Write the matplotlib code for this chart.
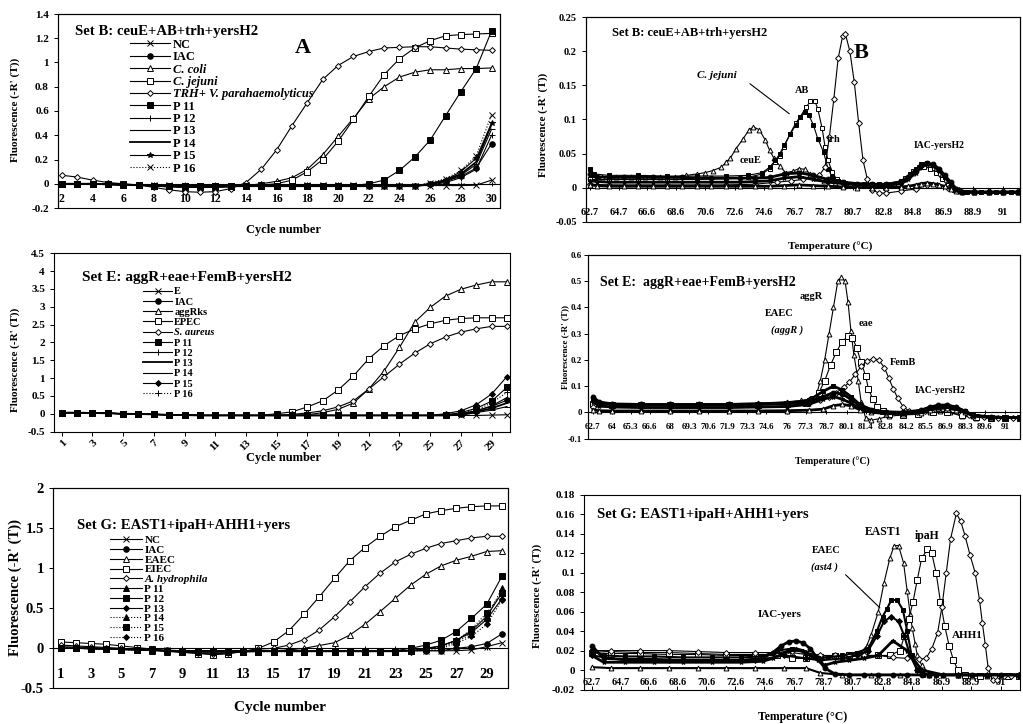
import numpy as np
import matplotlib.pyplot as plt
from matplotlib.patches import Rectangle
from matplotlib.ticker import FuncFormatter

plt.rcParams['font.family'] = ['Liberation Serif', 'DejaVu Serif']
plt.rcParams['font.weight'] = 'bold'
plt.rcParams['axes.linewidth'] = 0.8

# ---------------- amplification curves, Set B (panel A) ----------------
cyc_a = list(range(2, 31))
a_labels = ['NC', 'IAC', 'C. coli', 'C. jejuni', 'TRH+ V. parahaemolyticus',
            'P 11', 'P 12', 'P 13', 'P 14', 'P 15', 'P 16']
a_nc = [0.0, 0.0, 0.0, 0.0, -0.005, -0.008, -0.01, -0.012, -0.015, -0.015, -0.015, -0.015, -0.012, -0.012, -0.012,
        -0.012, -0.012, -0.012, -0.012, -0.012, -0.012, -0.015, -0.015, -0.015, -0.015, -0.015, -0.015, -0.012, 0.03]
a_iac = [0.0, 0.0, 0.0, -0.005, -0.01, -0.012, -0.015, -0.018, -0.02, -0.02, -0.02, -0.02, -0.02, -0.02, -0.02,
         -0.02, -0.02, -0.02, -0.02, -0.02, -0.02, -0.02, -0.02, -0.015, -0.005, 0.02, 0.06, 0.13, 0.33]
a_ccoli = [0.0, 0.0, 0.0, 0.0, -0.005, -0.01, -0.02, -0.025, -0.03, -0.03, -0.03, -0.025, -0.015, 0.0, 0.02,
           0.05, 0.12, 0.24, 0.39, 0.54, 0.70, 0.80, 0.88, 0.92, 0.94, 0.94, 0.95, 0.95, 0.955]
a_cjej = [0.0, 0.0, 0.0, 0.0, -0.005, -0.01, -0.02, -0.025, -0.03, -0.03, -0.03, -0.025, -0.02, -0.01, 0.0,
          0.03, 0.10, 0.20, 0.35, 0.53, 0.72, 0.90, 1.03, 1.12, 1.18, 1.22, 1.23, 1.235, 1.24]
a_trh = [0.07, 0.055, 0.03, 0.01, 0.0, -0.01, -0.03, -0.05, -0.065, -0.07, -0.065, -0.04, 0.01, 0.12, 0.28,
         0.48, 0.67, 0.86, 0.975, 1.05, 1.09, 1.12, 1.125, 1.13, 1.13, 1.12, 1.11, 1.105, 1.10]
a_p11 = [0.0, 0.0, 0.0, -0.005, -0.01, -0.012, -0.015, -0.018, -0.02, -0.02, -0.02, -0.02, -0.02, -0.02, -0.02,
         -0.02, -0.02, -0.02, -0.02, -0.015, 0.0, 0.03, 0.11, 0.22, 0.36, 0.56, 0.76, 0.95, 1.26]
a_p12 = [0.0, 0.0, 0.0, -0.005, -0.01, -0.012, -0.015, -0.018, -0.02, -0.02, -0.02, -0.02, -0.02, -0.02, -0.02,
         -0.02, -0.02, -0.02, -0.02, -0.02, -0.02, -0.02, -0.02, -0.02, -0.01, 0.01, 0.05, 0.12, 0.40]
a_p13 = [0.0, 0.0, 0.0, -0.005, -0.01, -0.012, -0.015, -0.018, -0.02, -0.02, -0.02, -0.02, -0.02, -0.02, -0.02,
         -0.02, -0.02, -0.02, -0.02, -0.02, -0.02, -0.02, -0.02, -0.02, -0.005, 0.02, 0.07, 0.16, 0.45]
a_p14 = [0.0, 0.0, 0.0, -0.005, -0.01, -0.012, -0.015, -0.018, -0.02, -0.02, -0.02, -0.02, -0.02, -0.02, -0.02,
         -0.02, -0.02, -0.02, -0.02, -0.02, -0.02, -0.02, -0.02, -0.02, 0.0, 0.03, 0.08, 0.18, 0.49]
a_p15 = [0.0, 0.0, 0.0, -0.005, -0.01, -0.012, -0.015, -0.018, -0.02, -0.02, -0.02, -0.02, -0.02, -0.02, -0.02,
         -0.02, -0.02, -0.02, -0.02, -0.02, -0.02, -0.02, -0.02, -0.02, 0.0, 0.03, 0.10, 0.21, 0.50]
a_p16 = [0.0, 0.0, 0.0, -0.005, -0.01, -0.012, -0.015, -0.018, -0.02, -0.02, -0.02, -0.02, -0.02, -0.02, -0.02,
         -0.02, -0.02, -0.02, -0.02, -0.02, -0.02, -0.02, -0.02, -0.02, 0.01, 0.04, 0.11, 0.23, 0.57]

# ---------------- amplification curves, Set E ----------------
cyc_e = list(range(1, 31))
e_labels = ['E', 'IAC', 'aggRks', 'EPEC', 'S. aureus', 'P 11', 'P 12', 'P 13', 'P 14', 'P 15', 'P 16']
e_e = [0.03, 0.03, 0.02, 0.01, 0.0, -0.01, -0.02, -0.03, -0.04, -0.05, -0.05, -0.05, -0.05, -0.05, -0.05,
       -0.05, -0.05, -0.05, -0.05, -0.05, -0.05, -0.05, -0.05, -0.05, -0.05, -0.05, -0.05, -0.05, -0.04, -0.03]
e_iac = [0.03, 0.03, 0.02, 0.01, 0.0, -0.01, -0.02, -0.03, -0.04, -0.05, -0.05, -0.05, -0.05, -0.05, -0.05,
         -0.05, -0.05, -0.05, -0.05, -0.05, -0.05, -0.05, -0.05, -0.05, -0.05, -0.05, 0.0, 0.08, 0.2, 0.38]
e_aggr = [0.03, 0.03, 0.02, 0.01, 0.0, -0.01, -0.02, -0.03, -0.04, -0.05, -0.05, -0.05, -0.05, -0.05, -0.05,
          -0.05, -0.03, 0.03, 0.12, 0.30, 0.69, 1.2, 1.86, 2.57, 2.98, 3.30, 3.49, 3.61, 3.70, 3.70]
e_epec = [0.03, 0.03, 0.02, 0.01, 0.0, -0.01, -0.02, -0.03, -0.04, -0.05, -0.05, -0.05, -0.05, -0.05, 0.0,
          0.05, 0.19, 0.36, 0.66, 1.06, 1.54, 1.91, 2.19, 2.38, 2.52, 2.62, 2.67, 2.69, 2.69, 2.69]
e_saur = [0.03, 0.03, 0.02, 0.01, 0.0, -0.01, -0.02, -0.03, -0.04, -0.05, -0.05, -0.05, -0.05, -0.05, -0.05,
          -0.02, 0.02, 0.08, 0.19, 0.36, 0.69, 1.04, 1.39, 1.70, 1.96, 2.15, 2.29, 2.38, 2.45, 2.45]
e_p11 = [0.03, 0.03, 0.02, 0.01, 0.0, -0.01, -0.02, -0.03, -0.04, -0.05, -0.05, -0.05, -0.05, -0.05, -0.05,
         -0.05, -0.05, -0.05, -0.05, -0.05, -0.05, -0.05, -0.05, -0.05, -0.05, -0.03, 0.03, 0.15, 0.35, 0.74]
e_p12 = [0.03, 0.03, 0.02, 0.01, 0.0, -0.01, -0.02, -0.03, -0.04, -0.05, -0.05, -0.05, -0.05, -0.05, -0.05,
         -0.05, -0.05, -0.05, -0.05, -0.05, -0.05, -0.05, -0.05, -0.05, -0.05, -0.04, 0.0, 0.08, 0.22, 0.45]
e_p13 = [0.03, 0.03, 0.02, 0.01, 0.0, -0.01, -0.02, -0.03, -0.04, -0.05, -0.05, -0.05, -0.05, -0.05, -0.05,
         -0.05, -0.05, -0.05, -0.05, -0.05, -0.05, -0.05, -0.05, -0.05, -0.05, -0.05, -0.03, 0.05, 0.15, 0.30]
e_p14 = [0.03, 0.03, 0.02, 0.01, 0.0, -0.01, -0.02, -0.03, -0.04, -0.05, -0.05, -0.05, -0.05, -0.05, -0.05,
         -0.05, -0.05, -0.05, -0.05, -0.05, -0.05, -0.05, -0.05, -0.05, -0.05, -0.05, -0.04, 0.03, 0.10, 0.20]
e_p15 = [0.03, 0.03, 0.02, 0.01, 0.0, -0.01, -0.02, -0.03, -0.04, -0.05, -0.05, -0.05, -0.05, -0.05, -0.05,
         -0.05, -0.05, -0.05, -0.05, -0.05, -0.05, -0.05, -0.05, -0.05, -0.05, 0.0, 0.08, 0.25, 0.55, 1.04]
e_p16 = [0.03, 0.03, 0.02, 0.01, 0.0, -0.01, -0.02, -0.03, -0.04, -0.05, -0.05, -0.05, -0.05, -0.05, -0.05,
         -0.05, -0.05, -0.05, -0.05, -0.05, -0.05, -0.05, -0.05, -0.05, -0.05, -0.04, 0.02, 0.10, 0.30, 0.60]

# ---------------- amplification curves, Set G ----------------
cyc_g = list(range(1, 31))
g_labels = ['NC', 'IAC', 'EAEC', 'EIEC', 'A. hydrophila', 'P 11', 'P 12', 'P 13', 'P 14', 'P 15', 'P 16']
g_nc = [0.0, 0.0, 0.0, -0.005, -0.01, -0.015, -0.02, -0.025, -0.03, -0.03, -0.03, -0.03, -0.03, -0.03, -0.03,
        -0.03, -0.03, -0.03, -0.03, -0.03, -0.03, -0.03, -0.03, -0.03, -0.03, -0.03, -0.03, -0.02, 0.02, 0.07]
g_iac = [0.0, 0.0, 0.0, -0.005, -0.01, -0.015, -0.02, -0.025, -0.03, -0.03, -0.03, -0.03, -0.03, -0.03, -0.03,
         -0.03, -0.03, -0.03, -0.03, -0.03, -0.03, -0.03, -0.03, -0.03, -0.03, -0.03, 0.0, 0.02, 0.06, 0.18]
g_eaec = [0.02, 0.015, 0.01, 0.0, -0.01, -0.02, -0.03, -0.04, -0.05, -0.05, -0.05, -0.05, -0.045, -0.04, -0.03,
          -0.02, 0.0, 0.035, 0.07, 0.165, 0.30, 0.46, 0.625, 0.79, 0.925, 1.03, 1.10, 1.15, 1.21, 1.22]
g_eiec = [0.08, 0.07, 0.06, 0.05, 0.03, 0.01, -0.01, -0.03, -0.05, -0.065, -0.08, -0.07, -0.04, 0.0, 0.08,
          0.22, 0.425, 0.645, 0.875, 1.095, 1.26, 1.40, 1.52, 1.60, 1.68, 1.72, 1.75, 1.77, 1.78, 1.78]
g_ahyd = [0.04, 0.03, 0.02, 0.01, 0.0, -0.01, -0.02, -0.03, -0.05, -0.06, -0.07, -0.06, -0.04, -0.01, 0.0,
          0.04, 0.11, 0.23, 0.395, 0.58, 0.77, 0.94, 1.08, 1.175, 1.25, 1.31, 1.345, 1.38, 1.40, 1.40]
g_p11 = [0.0, 0.0, -0.005, -0.01, -0.015, -0.02, -0.025, -0.03, -0.035, -0.04, -0.04, -0.04, -0.04, -0.04, -0.04,
         -0.04, -0.04, -0.04, -0.04, -0.04, -0.04, -0.04, -0.04, -0.03, 0.0, 0.03, 0.10, 0.22, 0.40, 0.69]
g_p12 = [0.0, 0.0, -0.005, -0.01, -0.015, -0.02, -0.025, -0.03, -0.035, -0.04, -0.04, -0.04, -0.04, -0.04, -0.04,
         -0.04, -0.04, -0.04, -0.04, -0.04, -0.04, -0.04, -0.03, 0.0, 0.04, 0.10, 0.21, 0.375, 0.55, 0.90]
g_p13 = [0.0, 0.0, -0.005, -0.01, -0.015, -0.02, -0.025, -0.03, -0.035, -0.04, -0.04, -0.04, -0.04, -0.04, -0.04,
         -0.04, -0.04, -0.04, -0.04, -0.04, -0.04, -0.04, -0.04, -0.03, -0.01, 0.03, 0.10, 0.20, 0.36, 0.62]
g_p14 = [0.0, 0.0, -0.005, -0.01, -0.015, -0.02, -0.025, -0.03, -0.035, -0.04, -0.04, -0.04, -0.04, -0.04, -0.04,
         -0.04, -0.04, -0.04, -0.04, -0.04, -0.04, -0.04, -0.04, -0.03, 0.0, 0.02, 0.08, 0.18, 0.38, 0.75]
g_p15 = [0.0, 0.0, -0.005, -0.01, -0.015, -0.02, -0.025, -0.03, -0.035, -0.04, -0.04, -0.04, -0.04, -0.04, -0.04,
         -0.04, -0.04, -0.04, -0.04, -0.04, -0.04, -0.04, -0.04, -0.03, -0.01, 0.02, 0.09, 0.24, 0.44, 0.69]
g_p16 = [0.0, 0.0, -0.005, -0.01, -0.015, -0.02, -0.025, -0.03, -0.035, -0.04, -0.04, -0.04, -0.04, -0.04, -0.04,
         -0.04, -0.04, -0.04, -0.04, -0.04, -0.04, -0.04, -0.04, -0.04, -0.02, 0.0, 0.06, 0.15, 0.30, 0.60]

# ---------------- melt curves, Set B (panel B) ----------------
b_ticks = [62.7, 64.7, 66.6, 68.6, 70.6, 72.6, 74.6, 76.7, 78.7, 80.7, 82.8, 84.8, 86.9, 88.9, 91]
b_ceue_t = [62.7, 63.5, 64.5, 65.5, 66.5, 67.5, 68.5, 69.3, 70.0, 70.6, 71.1, 71.7, 72.0, 72.3, 72.7, 73.2, 73.6,
            73.9, 74.3, 74.7, 75.0, 75.3, 75.7, 76.1, 76.6, 77.0, 77.4, 77.8, 78.2, 78.7, 79.5, 80.5, 81.5, 82.5,
            83.5, 84.3, 84.8, 85.2, 85.6, 86.0, 86.4, 86.8, 87.2, 87.6, 88.0, 89.0, 90.0, 91.0, 92.0]
b_ceue_v = [0.015, 0.015, 0.015, 0.015, 0.015, 0.015, 0.016, 0.018, 0.02, 0.022, 0.025, 0.03, 0.037, 0.043, 0.057,
            0.072, 0.085, 0.089, 0.085, 0.07, 0.055, 0.043, 0.032, 0.022, 0.024, 0.028, 0.027, 0.02, 0.014, 0.01,
            0.007, 0.005, 0.004, 0.004, 0.005, 0.012, 0.022, 0.03, 0.034, 0.033, 0.029, 0.02, 0.01, 0.0, -0.005,
            -0.006, -0.006, -0.006, -0.006]
b_cjej_t = [62.7, 64.0, 66.0, 68.0, 70.0, 72.0, 73.5, 74.5, 75.0, 75.4, 75.7, 76.0, 76.4, 76.8, 77.1, 77.5, 77.8,
            78.1, 78.3, 78.6, 78.8, 79.0, 79.3, 79.6, 80.0, 80.5, 81.5, 82.5, 83.5, 84.3, 84.8, 85.2, 85.6, 86.0,
            86.4, 86.8, 87.2, 87.6, 88.0, 89.0, 90.0, 91.0, 92.0]
b_cjej_v = [0.012, 0.012, 0.012, 0.012, 0.012, 0.013, 0.015, 0.02, 0.028, 0.038, 0.047, 0.06, 0.079, 0.095, 0.104,
            0.118, 0.127, 0.127, 0.116, 0.087, 0.06, 0.04, 0.023, 0.012, 0.008, 0.006, 0.005, 0.005, 0.006, 0.014,
            0.024, 0.03, 0.031, 0.028, 0.022, 0.012, 0.004, -0.003, -0.005, -0.006, -0.006, -0.006, -0.006]
b_ab_t = [62.7, 63.0, 64.0, 66.0, 68.0, 70.0, 72.0, 73.5, 74.5, 75.0, 75.4, 75.7, 76.0, 76.4, 76.8, 77.1, 77.4,
          77.7, 78.0, 78.3, 78.7, 79.0, 79.3, 79.7, 80.2, 81.0, 82.0, 83.0, 84.0, 84.6, 85.0, 85.4, 85.8, 86.2,
          86.6, 87.0, 87.4, 87.8, 88.5, 89.5, 90.5, 91.5, 92.0]
b_ab_v = [0.028, 0.02, 0.018, 0.018, 0.017, 0.017, 0.017, 0.018, 0.022, 0.03, 0.04, 0.05, 0.062, 0.078, 0.092,
          0.103, 0.111, 0.106, 0.092, 0.072, 0.052, 0.028, 0.015, 0.01, 0.007, 0.006, 0.005, 0.006, 0.01, 0.02,
          0.028, 0.034, 0.036, 0.033, 0.026, 0.016, 0.006, -0.003, -0.006, -0.007, -0.007, -0.007, -0.007]
b_trh_t = [62.7, 64.0, 66.0, 68.0, 70.0, 72.0, 74.0, 75.5, 76.5, 77.3, 78.0, 78.4, 78.8, 79.1, 79.4, 79.7, 80.0,
           80.2, 80.5, 80.8, 81.1, 81.4, 81.7, 82.0, 82.5, 83.0, 84.0, 85.0, 85.8, 86.5, 87.2, 88.0, 89.0, 90.0,
           91.0, 92.0]
b_trh_v = [0.005, 0.004, 0.004, 0.004, 0.004, 0.004, 0.005, 0.008, 0.01, 0.012, 0.015, 0.018, 0.03, 0.075, 0.13,
           0.19, 0.222, 0.225, 0.2, 0.155, 0.095, 0.04, 0.012, -0.003, -0.008, -0.008, -0.005, -0.002, 0.004,
           0.004, 0.0, -0.004, -0.005, -0.005, -0.005, -0.005]
b_band_t = [62.7, 63.2, 64, 65, 66, 67, 68, 69, 70, 71, 72, 73, 74, 75, 76, 77, 78, 79, 80, 81, 82, 83, 84, 84.5,
            85.0, 85.4, 85.8, 86.2, 86.6, 87.0, 87.4, 87.8, 88.2, 89, 90, 91, 92]
b_iac_v = [0.02, 0.016, 0.015, 0.015, 0.015, 0.015, 0.015, 0.015, 0.014, 0.014, 0.014, 0.014, 0.014, 0.015, 0.02,
           0.022, 0.018, 0.012, 0.008, 0.006, 0.005, 0.005, 0.008, 0.015, 0.025, 0.033, 0.036, 0.034, 0.028, 0.018,
           0.008, -0.002, -0.006, -0.007, -0.007, -0.007, -0.007]
b_p15_v = [0.01, 0.009, 0.008, 0.008, 0.008, 0.008, 0.008, 0.008, 0.008, 0.008, 0.008, 0.008, 0.009, 0.01, 0.014,
           0.016, 0.012, 0.008, 0.006, 0.004, 0.003, 0.003, 0.006, 0.012, 0.022, 0.03, 0.034, 0.032, 0.025, 0.015,
           0.005, -0.003, -0.006, -0.007, -0.007, -0.007, -0.007]
b_nc_v = [0.004, 0.003, 0.002, 0.002, 0.002, 0.002, 0.002, 0.002, 0.002, 0.002, 0.002, 0.002, 0.002, 0.002, 0.003,
          0.004, 0.003, 0.002, 0.001, 0.0, 0.0, 0.0, 0.001, 0.002, 0.004, 0.006, 0.007, 0.006, 0.004, 0.002,
          -0.002, -0.005, -0.006, -0.007, -0.007, -0.007, -0.007]

# ---------------- melt curves, Set E ----------------
e_ticks = [62.7, 64, 65.3, 66.6, 68, 69.3, 70.6, 71.9, 73.3, 74.6, 76, 77.3, 78.7, 80.1, 81.4, 82.8, 84.2, 85.5,
           86.9, 88.3, 89.6, 91]
em_aggr_t = [62.7, 63.2, 64.0, 66.0, 68.0, 70.0, 72.0, 74.0, 76.0, 77.0, 77.5, 78.0, 78.3, 78.6, 78.9, 79.2, 79.5,
             79.75, 80.0, 80.2, 80.4, 80.6, 80.9, 81.1, 81.4, 81.8, 82.3, 83.0, 84.0, 85.0, 85.8, 86.5, 87.2, 88.0,
             89.0, 90.0, 91.0, 92.0]
em_aggr_v = [0.045, 0.035, 0.033, 0.032, 0.032, 0.032, 0.033, 0.035, 0.04, 0.045, 0.05, 0.06, 0.12, 0.2, 0.3, 0.4,
             0.5, 0.515, 0.5, 0.42, 0.31, 0.22, 0.12, 0.04, -0.02, -0.03, -0.025, -0.015, -0.01, -0.008, 0.0, 0.005,
             0.0, -0.015, -0.02, -0.02, -0.02, -0.02]
em_eae_t = [62.7, 64.0, 66.0, 68.0, 70.0, 72.0, 74.0, 76.0, 77.3, 77.8, 78.2, 78.6, 79.0, 79.4, 79.8, 80.2, 80.5,
            80.8, 81.1, 81.4, 81.6, 81.9, 82.2, 82.6, 83.0, 84.0, 85.0, 86.0, 87.0, 88.0, 89.0, 90.0, 91.0, 92.0]
em_eae_v = [0.03, 0.028, 0.027, 0.027, 0.027, 0.027, 0.028, 0.03, 0.035, 0.05, 0.075, 0.12, 0.18, 0.23, 0.27, 0.29,
            0.285, 0.245, 0.19, 0.14, 0.09, 0.05, 0.02, 0.005, -0.005, -0.01, -0.005, 0.0, 0.0, -0.01, -0.018,
            -0.02, -0.02, -0.02]
em_femb_t = [62.7, 64.0, 66.0, 68.0, 70.0, 72.0, 74.0, 76.0, 77.5, 78.3, 78.9, 79.4, 79.9, 80.3, 80.7, 81.1, 81.5,
             81.9, 82.3, 82.7, 83.0, 83.3, 83.6, 84.0, 84.4, 84.9, 85.5, 86.2, 87.0, 87.8, 88.5, 89.5, 90.5, 91.5,
             92.0]
em_femb_v = [0.02, 0.02, 0.02, 0.02, 0.02, 0.02, 0.022, 0.025, 0.035, 0.045, 0.06, 0.075, 0.095, 0.115, 0.145,
             0.175, 0.195, 0.205, 0.2, 0.17, 0.13, 0.09, 0.055, 0.02, 0.005, 0.0, 0.005, 0.012, 0.015, 0.005,
             -0.012, -0.018, -0.02, -0.02, -0.02]
em_band_t = [62.7, 63.1, 64.0, 66.0, 68.0, 70.0, 72.0, 74.0, 76.0, 77.5, 78.5, 79.2, 79.8, 80.4, 81.0, 81.8, 82.8,
             84.0, 85.2, 85.8, 86.4, 87.0, 87.6, 88.2, 88.8, 90.0, 91.0, 92.0]
em_iac_v = [0.06, 0.04, 0.032, 0.03, 0.03, 0.03, 0.03, 0.032, 0.035, 0.04, 0.06, 0.075, 0.07, 0.05, 0.025, 0.01,
            0.002, 0.0, 0.008, 0.02, 0.027, 0.028, 0.02, 0.005, -0.012, -0.018, -0.02, -0.02]
em_eaec_v = [0.05, 0.035, 0.03, 0.028, 0.027, 0.027, 0.028, 0.03, 0.035, 0.045, 0.08, 0.1, 0.085, 0.06, 0.03, 0.01,
             0.0, -0.004, 0.004, 0.015, 0.022, 0.024, 0.018, 0.004, -0.012, -0.018, -0.02, -0.02]
em_nc_v = [0.01, 0.006, 0.005, 0.005, 0.005, 0.005, 0.005, 0.005, 0.006, 0.008, 0.012, 0.025, 0.03, 0.025, 0.01,
           0.0, -0.005, -0.006, -0.002, 0.008, 0.015, 0.016, 0.01, 0.0, -0.014, -0.02, -0.02, -0.02]
em_p15_v = [0.04, 0.025, 0.02, 0.018, 0.018, 0.018, 0.018, 0.02, 0.022, 0.03, 0.05, 0.06, 0.05, 0.035, 0.015,
            0.005, -0.002, -0.004, 0.006, 0.018, 0.025, 0.026, 0.019, 0.004, -0.013, -0.019, -0.02, -0.02]

# ---------------- melt curves, Set G ----------------
g_ticks = [62.7, 64.7, 66.6, 68.6, 70.6, 72.6, 74.6, 76.7, 78.7, 80.7, 82.8, 84.8, 86.9, 88.9, 91]
gm_east_t = [62.7, 64.0, 66.0, 68.0, 70.0, 72.0, 74.0, 75.5, 76.5, 77.5, 78.5, 79.5, 80.5, 81.3, 81.7, 82.0, 82.5,
             82.9, 83.3, 83.6, 83.9, 84.25, 84.5, 84.7, 84.85, 85.05, 85.2, 85.5, 86.0, 87.0, 88.0, 89.0, 90.0,
             91.0, 92.2]
gm_east_v = [0.02, 0.019, 0.018, 0.018, 0.017, 0.016, 0.016, 0.016, 0.018, 0.016, 0.013, 0.014, 0.015, 0.018,
             0.025, 0.036, 0.06, 0.09, 0.115, 0.128, 0.128, 0.11, 0.081, 0.058, 0.043, 0.027, 0.015, 0.005, -0.003,
             -0.005, -0.005, -0.006, -0.006, -0.006, -0.006]
gm_ipah_t = [62.7, 64.0, 66.0, 68.0, 70.0, 72.0, 74.0, 75.5, 76.5, 77.5, 78.5, 79.5, 80.5, 81.5, 82.5, 83.3, 84.0,
             84.3, 84.6, 84.9, 85.2, 85.5, 85.9, 86.2, 86.5, 86.8, 87.1, 87.4, 87.7, 88.0, 88.5, 89.5, 90.5, 91.5,
             92.2]
gm_ipah_v = [0.018, 0.017, 0.017, 0.016, 0.016, 0.015, 0.015, 0.015, 0.012, 0.012, 0.013, 0.014, 0.015, 0.015,
             0.015, 0.015, 0.02, 0.035, 0.052, 0.07, 0.093, 0.115, 0.124, 0.12, 0.1, 0.07, 0.045, 0.025, 0.01, 0.0,
             -0.005, -0.006, -0.006, -0.006, -0.006]
gm_ahh_t = [62.7, 64.0, 66.0, 68.0, 70.0, 72.0, 74.0, 75.5, 76.5, 77.5, 78.5, 79.5, 80.5, 81.5, 82.5, 83.5, 84.5,
            85.3, 85.8, 86.2, 86.6, 86.9, 87.2, 87.5, 87.9, 88.2, 88.5, 88.85, 89.2, 89.5, 89.7, 89.9, 90.1, 90.4,
            90.7, 91.2, 91.7, 92.2]
gm_ahh_v = [0.02, 0.02, 0.02, 0.02, 0.019, 0.018, 0.018, 0.018, 0.02, 0.018, 0.015, 0.015, 0.015, 0.015, 0.015,
            0.013, 0.012, 0.011, 0.012, 0.022, 0.038, 0.065, 0.1, 0.135, 0.161, 0.153, 0.138, 0.118, 0.1, 0.072,
            0.048, 0.026, 0.002, -0.01, -0.01, -0.006, -0.006, -0.006]
gm_eaec_t = [62.7, 63.5, 65.0, 67.0, 69.0, 71.0, 73.0, 74.5, 75.5, 76.5, 77.5, 78.3, 79.0, 80.0, 81.0, 81.8, 82.4,
             82.8, 83.1, 83.4, 83.8, 84.2, 84.5, 84.8, 85.2, 85.6, 86.5, 88.0, 90.0, 92.2]
gm_eaec_v = [0.02, 0.015, 0.014, 0.014, 0.013, 0.013, 0.013, 0.014, 0.02, 0.022, 0.018, 0.012, 0.013, 0.015, 0.018,
             0.022, 0.04, 0.055, 0.063, 0.072, 0.072, 0.062, 0.04, 0.015, 0.0, -0.005, -0.005, -0.005, -0.005,
             -0.005]
gm_iac_t = [62.7, 63.5, 65.0, 67.0, 69.0, 71.0, 73.0, 74.5, 75.2, 75.8, 76.3, 76.8, 77.3, 77.8, 78.3, 78.8, 79.5,
            80.5, 81.5, 82.5, 83.5, 84.5, 85.5, 87.0, 89.0, 91.0, 92.2]
gm_iac_v = [0.025, 0.012, 0.011, 0.011, 0.01, 0.01, 0.01, 0.012, 0.018, 0.025, 0.029, 0.03, 0.028, 0.022, 0.012,
            0.002, -0.004, -0.005, -0.005, -0.005, -0.005, -0.005, -0.005, -0.005, -0.005, -0.005, -0.005]
gm_p16_v = [0.015, 0.008, 0.008, 0.008, 0.008, 0.008, 0.008, 0.009, 0.012, 0.016, 0.02, 0.022, 0.02, 0.015, 0.01,
            0.005, 0.008, 0.01, 0.012, 0.015, 0.03, 0.02, 0.0, -0.005, -0.005, -0.005, -0.005]
gm_p13_t = [62.7, 65.0, 68.0, 71.0, 74.0, 76.0, 77.5, 78.5, 80.0, 81.0, 81.8, 82.4, 82.9, 83.4, 83.9, 84.3, 84.7,
            85.2, 86.0, 88.0, 90.0, 92.2]
gm_p13_v = [0.015, 0.01, 0.01, 0.01, 0.01, 0.015, 0.012, 0.01, 0.012, 0.015, 0.02, 0.035, 0.05, 0.055, 0.05, 0.035,
            0.015, 0.0, -0.005, -0.005, -0.005, -0.005]
gm_nc_t = [62.7, 64.0, 66.0, 68.0, 70.0, 72.0, 74.0, 76.0, 77.5, 78.5, 80.0, 82.0, 84.0, 86.0, 88.0, 90.0, 92.2]
gm_nc_v = [0.003, 0.002, 0.002, 0.002, 0.002, 0.002, 0.002, 0.002, 0.002, -0.003, -0.005, -0.005, -0.005, -0.005,
           -0.005, -0.005, -0.005]

# ---------------- drawing ----------------
W, H = 1023, 724
fig = plt.figure(figsize=(W / 100, H / 100), dpi=100)


def add_ax(l, t, r, b):
    return fig.add_axes([l / W, 1 - b / H, (r - l) / W, (b - t) / H])


def ftext(px, py, s, **kw):
    fig.text(px / W, 1 - py / H, s, **kw)


STY = {
    'x': dict(marker='x'), 'o': dict(marker='o'),
    'tri': dict(marker='^', mfc='white'), 'sq': dict(marker='s', mfc='white'),
    'dia': dict(marker='D', mfc='white'), 'fsq': dict(marker='s'), 'ftri': dict(marker='^'),
    'fdia': dict(marker='D'), 'plus': dict(marker='+'), 'dash': dict(marker='_'),
    'line': dict(marker='None'), 'star': dict(marker='*'),
    'dotx': dict(marker='x', ls=':'), 'dotplus': dict(marker='+', ls=':'),
    'dotftri': dict(marker='^', ls=':'), 'dotfsq': dict(marker='s', ls=':'),
    'dotfdia': dict(marker='D', ls=':'),
}


def draw(ax, x, y, key, ms=4.0, lw=0.8, label=None, z=2):
    st = dict(marker='None', mfc='black', ls='-')
    st.update(STY[key])
    if st['marker'] == 'D':
        ms = ms * 0.75
    ax.plot(x, y, color='black', mec='black', mew=0.7, ms=ms, lw=lw, label=label, zorder=z, **st)


fmt = FuncFormatter(lambda v, p: f"{round(v, 3) + 0.0:g}")


def frame(ax, zero_axis):
    ax.yaxis.set_major_formatter(fmt)
    ax.tick_params(axis='y', direction='out', length=3, width=0.7)
    ax.tick_params(axis='x', length=3, width=0.7)
    if zero_axis:
        ax.spines['bottom'].set_position(('data', 0))
        ax.tick_params(axis='x', direction='inout')
        ax.add_patch(Rectangle((0, 0), 1, 1, transform=ax.transAxes, fill=False, lw=0.8,
                               ec='black', zorder=6, clip_on=False))


def legend(ax, fx, fy, fs, hl, ls, italic):
    leg = ax.legend(loc='upper left', bbox_to_anchor=(fx, fy), frameon=False, fontsize=fs,
                    handlelength=hl, handletextpad=0.2, labelspacing=ls, borderpad=0,
                    borderaxespad=0)
    for i in italic:
        leg.get_texts()[i].set_fontstyle('italic')


ylab = "Fluorescence (-R' (T))"

# ---- panel A ----
ax = add_ax(58, 14, 500, 208)
a_series = [a_nc, a_iac, a_ccoli, a_cjej, a_trh, a_p11, a_p12, a_p13, a_p14, a_p15, a_p16]
a_keys = ['x', 'o', 'tri', 'sq', 'dia', 'fsq', 'plus', 'dash', 'line', 'star', 'dotx']
for vals, key, lab in zip(a_series, a_keys, a_labels):
    draw(ax, cyc_a, vals, key, lw=1.3 if key == 'line' else 0.8, label=lab)
ax.set_xlim(1.75, 30.55)
ax.set_ylim(-0.2, 1.4)
ax.set_xticks(list(range(2, 31, 2)))
ax.set_yticks(np.arange(-0.2, 1.41, 0.2))
frame(ax, True)
ax.tick_params(axis='x', pad=5, labelsize=8.5)
ax.tick_params(axis='y', labelsize=8)
legend(ax, 0.163, 0.872, 9, 3.2, 0.03, [2, 3, 4])
ftext(75, 31.7, 'Set B: ceuE+AB+trh+yersH2', fontsize=10.6, va='center')
ftext(303, 48, 'A', fontsize=16, ha='center', va='center')
ftext(15, 110, ylab, rotation=90, ha='center', va='center', fontsize=8)
ftext(283, 230, 'Cycle number', ha='center', va='center', fontsize=9)

# ---- panel B ----
ax = add_ax(586, 17.3, 1020, 221.7)
for v, key in [(b_nc_v, 'tri'), (b_p15_v, 'star'), (b_iac_v, 'o')]:
    draw(ax, b_band_t, v, key, ms=3.5, lw=2.0, z=3)
draw(ax, b_ceue_t, b_ceue_v, 'tri', ms=3.5)
draw(ax, b_cjej_t, b_cjej_v, 'sq', ms=3.5)
draw(ax, b_ab_t, b_ab_v, 'fsq', ms=3.5)
draw(ax, b_trh_t, b_trh_v, 'dia', ms=4)
ax.set_xlim(62.43, 92.15)
ax.set_ylim(-0.05, 0.25)
ax.set_xticks(b_ticks)
ax.set_xticklabels([f"{t:g}" for t in b_ticks])
ax.set_yticks(np.arange(-0.05, 0.251, 0.05))
frame(ax, True)
ax.tick_params(axis='x', pad=13, labelsize=7.5)
ax.tick_params(axis='y', labelsize=7.5)
ax.text(64.2, 0.227, 'Set B: ceuE+AB+trh+yersH2', fontsize=9, va='center')
ax.text(81.3, 0.197, 'B', fontsize=16, ha='center', va='center')
ax.text(77.2, 0.143, 'AB', fontsize=7.5, ha='center', va='center')
ax.text(79.4, 0.071, 'trh', fontsize=7.5, ha='center', va='center')
ax.text(73.7, 0.040, 'ceuE', fontsize=7.5, ha='center', va='center')
ax.text(71.4, 0.165, 'C. jejuni', fontsize=8, ha='center', va='center', style='italic')
ax.annotate('', xy=(76.5, 0.106), xytext=(73.5, 0.155), arrowprops=dict(arrowstyle='-', lw=0.8))
ax.text(86.6, 0.062, 'IAC-yersH2', fontsize=7, ha='center', va='center')
ftext(543, 125, ylab, rotation=90, ha='center', va='center', fontsize=8)
ftext(830, 247, 'Temperature (°C)', ha='center', va='center', fontsize=8)

# ---- panel E (amplification) ----
ax = add_ax(54, 253.3, 510, 431.5)
e_series = [e_e, e_iac, e_aggr, e_epec, e_saur, e_p11, e_p12, e_p13, e_p14, e_p15, e_p16]
e_keys = ['x', 'o', 'tri', 'sq', 'dia', 'fsq', 'plus', 'line', 'dash', 'fdia', 'dotplus']
for vals, key, lab in zip(e_series, e_keys, e_labels):
    draw(ax, cyc_e, vals, key, lw=1.3 if key == 'line' else 0.8, label=lab)
ax.set_xlim(0.5, 30.2)
ax.set_ylim(-0.5, 4.5)
ax.set_xticks(list(range(1, 30, 2)))
ax.set_xticklabels([str(c) for c in range(1, 30, 2)], rotation=45, ha='right', rotation_mode='anchor')
ax.set_yticks(np.arange(-0.5, 4.51, 0.5))
frame(ax, False)
ax.tick_params(axis='x', pad=2, labelsize=8)
ax.tick_params(axis='y', labelsize=8)
legend(ax, 0.195, 0.81, 7.5, 2.8, 0.09, [4])
ftext(82, 278, 'Set E: aggR+eae+FemB+yersH2', fontsize=11, va='center')
ftext(15, 360, ylab, rotation=90, ha='center', va='center', fontsize=8)
ftext(283, 458, 'Cycle number', ha='center', va='center', fontsize=9)

# ---- panel E (melt) ----
ax = add_ax(588, 255, 1020, 438.5)
for v, key in [(em_nc_v, 'tri'), (em_p15_v, 'star'), (em_eaec_v, 'fsq'), (em_iac_v, 'o')]:
    draw(ax, em_band_t, v, key, ms=3.5, lw=2.0, z=3)
draw(ax, em_aggr_t, em_aggr_v, 'tri', ms=3.5)
draw(ax, em_eae_t, em_eae_v, 'sq', ms=3.8)
draw(ax, em_femb_t, em_femb_v, 'dia', ms=4)
ax.set_xlim(62.36, 92.0)
ax.set_ylim(-0.1, 0.6)
ax.set_xticks(e_ticks)
ax.set_xticklabels([f"{t:g}" for t in e_ticks], rotation=45, ha='center')
ax.set_yticks(np.arange(-0.1, 0.61, 0.1))
frame(ax, True)
ax.tick_params(axis='x', pad=6, labelsize=6.5)
ax.tick_params(axis='y', labelsize=6.5, pad=1.5)
ax.text(63.2, 0.495, 'Set E:  aggR+eae+FemB+yersH2', fontsize=10, va='center')
ax.text(78.5, 0.44, 'aggR', fontsize=7.5, ha='right', va='center')
ax.text(75.5, 0.375, 'EAEC', fontsize=7.5, ha='center', va='center')
ax.text(76.05, 0.314, '(aggR )', fontsize=7.5, ha='center', va='center', style='italic')
ax.text(81.4, 0.34, 'eae', fontsize=7.5, ha='center', va='center')
ax.text(84.0, 0.19, 'FemB', fontsize=7.5, ha='center', va='center')
ax.text(86.5, 0.082, 'IAC-yersH2', fontsize=7, ha='center', va='center')
ftext(565, 347, ylab, rotation=90, ha='center', va='center', fontsize=6.5)
ftext(832, 462, 'Temperature (°C)', ha='center', va='center', fontsize=7)

# ---- panel G (amplification) ----
ax = add_ax(53, 488.3, 508, 688.3)
g_series = [g_nc, g_iac, g_eaec, g_eiec, g_ahyd, g_p11, g_p12, g_p13, g_p14, g_p15, g_p16]
g_keys = ['x', 'o', 'tri', 'sq', 'dia', 'ftri', 'fsq', 'fdia', 'dotftri', 'dotfsq', 'dotfdia']
for vals, key, lab in zip(g_series, g_keys, g_labels):
    draw(ax, cyc_g, vals, key, label=lab)
ax.set_xlim(0.5, 30.4)
ax.set_ylim(-0.5, 2)
ax.set_xticks(list(range(1, 30, 2)))
ax.set_yticks(np.arange(-0.5, 2.01, 0.5))
frame(ax, True)
ax.tick_params(axis='x', pad=13, labelsize=10.5)
ax.tick_params(axis='y', labelsize=10.5)
legend(ax, 0.125, 0.765, 8, 2.9, 0.0, [4])
ftext(77, 525, 'Set G: EAST1+ipaH+AHH1+yers', fontsize=10.6, va='center')
ftext(15, 588, ylab, rotation=90, ha='center', va='center', fontsize=10.5)
ftext(280, 708, 'Cycle number', ha='center', va='center', fontsize=11)

# ---- panel G (melt) ----
ax = add_ax(584, 495, 1020, 689.5)
draw(ax, gm_nc_t, gm_nc_v, 'tri', ms=3.5, lw=1.5, z=3)
draw(ax, gm_iac_t, gm_p16_v, 'star', ms=3.5, lw=2.0, z=3)
draw(ax, gm_iac_t, gm_iac_v, 'o', ms=3.5, lw=2.0, z=3)
draw(ax, gm_p13_t, gm_p13_v, 'fdia', ms=4, lw=1.5, z=3)
draw(ax, gm_eaec_t, gm_eaec_v, 'fsq', ms=3.5, lw=1.5, z=3)
draw(ax, gm_east_t, gm_east_v, 'tri', ms=3.5)
draw(ax, gm_ipah_t, gm_ipah_v, 'sq', ms=3.8)
draw(ax, gm_ahh_t, gm_ahh_v, 'dia', ms=4)
ax.set_xlim(62.15, 92.3)
ax.set_ylim(-0.02, 0.18)
ax.set_xticks(g_ticks)
ax.set_xticklabels([f"{t:g}" for t in g_ticks])
ax.set_yticks(np.arange(-0.02, 0.181, 0.02))
frame(ax, False)
ax.tick_params(axis='x', direction='in', pad=-8.5, labelsize=7.5)
ax.tick_params(axis='y', labelsize=8)
ax.text(63.05, 0.16, 'Set G: EAST1+ipaH+AHH1+yers', fontsize=10.5, va='center')
ax.text(82.8, 0.142, 'EAST1', fontsize=8.5, ha='center', va='center')
ax.text(85.9, 0.138, 'ipaH', fontsize=8.5, ha='center', va='center')
ax.text(78.9, 0.123, 'EAEC', fontsize=7.5, ha='center', va='center')
ax.text(78.8, 0.106, '(ast4 )', fontsize=7.5, ha='center', va='center', style='italic')
ax.annotate('', xy=(82.75, 0.062), xytext=(80.1, 0.1), arrowprops=dict(arrowstyle='-', lw=0.8))
ax.text(87.6, 0.036, 'AHH1', fontsize=8, ha='left', va='center')
ax.text(75.7, 0.057, 'IAC-yers', fontsize=8, ha='center', va='center')
ftext(537, 596, ylab, rotation=90, ha='center', va='center', fontsize=8)
ftext(803, 717, 'Temperature (°C)', ha='center', va='center', fontsize=8.5)

fig.savefig('out.png', dpi=100)
